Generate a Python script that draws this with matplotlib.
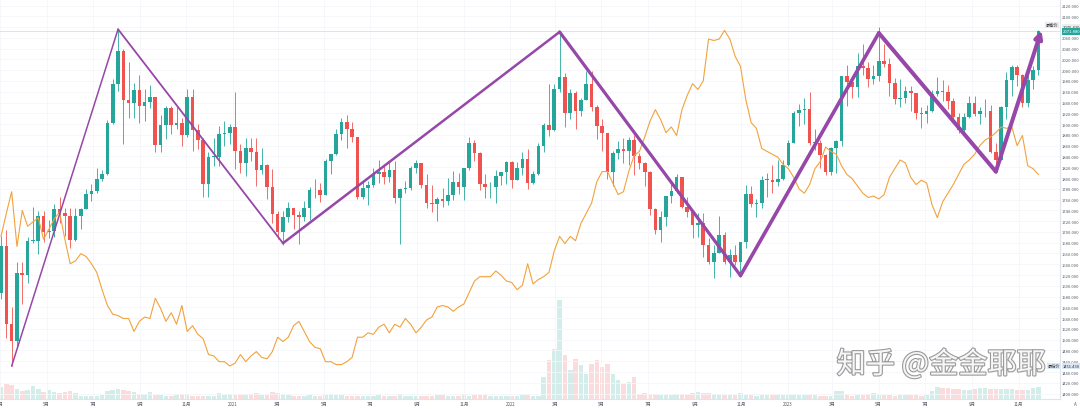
"""Weekly gold candles with dollar index overlay and a hand-drawn zigzag."""
import matplotlib
matplotlib.use("Agg")
import numpy as np
import pandas as pd
from matplotlib import pyplot as plt
from matplotlib import patheffects
from matplotlib.ticker import FuncFormatter
from matplotlib.transforms import blended_transform_factory

START = "2020-03-02"

# weekly gold OHLC, week of 2020-03-02 .. week of 2023-11-27
gold_open = [
    1586, 1674, 1529, 1498, 1624, 1620, 1683, 1683, 1729, 1700, 1702, 1743, 1735, 1730, 1685,
    1730, 1743, 1771, 1775, 1799, 1808, 1902, 1975, 2035, 1944, 1940, 1964, 1933, 1941, 1950,
    1861, 1899, 1930, 1899, 1902, 1879, 1951, 1889, 1871, 1788, 1839, 1839, 1881, 1883,
    # 2021
    1895, 1850, 1828, 1856, 1848, 1814, 1824, 1784, 1734, 1700, 1727, 1745, 1732, 1728, 1744,
    1777, 1777, 1769, 1831, 1844, 1881, 1903, 1891, 1877, 1764, 1781, 1787, 1808, 1812, 1802,
    1814, 1763, 1780, 1781, 1818, 1827, 1787, 1754, 1751, 1761, 1757, 1768, 1793, 1783, 1818,
    1865, 1846, 1788, 1783, 1783, 1804, 1811,
    # 2022
    1829, 1797, 1818, 1835, 1791, 1808, 1859, 1898, 1889, 1966, 1988, 1921, 1958, 1925, 1945,
    1974, 1931, 1896, 1883, 1811, 1846, 1853, 1851, 1871, 1840, 1827, 1811, 1742, 1703, 1727,
    1766, 1775, 1802, 1747, 1737, 1712, 1716, 1675, 1644, 1661, 1694, 1644, 1657, 1644, 1681,
    1771, 1751, 1754, 1797, 1797, 1793, 1798,
    # 2023
    1824, 1865, 1920, 1926, 1928, 1865, 1865, 1842, 1811, 1856, 1868, 1989, 1978, 1969, 2007,
    2004, 1983, 1990, 2017, 2011, 1977, 1946, 1948, 1961, 1958, 1921, 1919, 1925, 1955, 1961,
    1959, 1943, 1913, 1889, 1914, 1940, 1919, 1924, 1925, 1848, 1833, 1932, 1981, 2006, 1992,
    1940, 1981, 2001,
]
gold_high = [
    1692, 1703, 1560, 1645, 1645, 1690, 1747, 1739, 1738, 1722, 1751, 1765, 1745, 1745, 1744,
    1745, 1780, 1789, 1818, 1815, 1908, 1984, 2075, 2040, 2015, 1976, 1992, 1966, 1973, 1951,
    1917, 1933, 1933, 1931, 1911, 1965, 1966, 1900, 1875, 1848, 1875, 1896, 1906, 1900,
    1959, 1864, 1875, 1875, 1875, 1855, 1826, 1816, 1739, 1739, 1755, 1745, 1738, 1758, 1784,
    1798, 1790, 1836, 1845, 1890, 1912, 1916, 1903, 1877, 1795, 1795, 1818, 1834, 1825, 1832,
    1832, 1782, 1795, 1823, 1834, 1828, 1808, 1787, 1764, 1781, 1800, 1813, 1810, 1818, 1877,
    1870, 1849, 1808, 1793, 1815, 1812, 1831,
    1831, 1830, 1848, 1854, 1813, 1865, 1902, 1974, 1974, 2070, 1994, 1966, 1961, 1949, 1998,
    1998, 1936, 1909, 1884, 1850, 1869, 1874, 1877, 1879, 1847, 1830, 1813, 1745, 1739, 1767,
    1788, 1807, 1802, 1765, 1740, 1735, 1735, 1688, 1675, 1730, 1700, 1669, 1675, 1682, 1787,
    1786, 1761, 1804, 1810, 1824, 1833, 1833,
    1870, 1924, 1937, 1949, 1959, 1890, 1870, 1845, 1858, 1870, 1989, 2010, 1987, 2032, 2048,
    2015, 2009, 2081, 2048, 2022, 1985, 1983, 1971, 1971, 1958, 1931, 1935, 1964, 1987, 1982,
    1972, 1948, 1920, 1921, 1953, 1953, 1932, 1947, 1936, 1865, 1933, 1997, 2009, 2009, 1993,
    1993, 2007, 2075.42,
]
gold_low = [
    1576, 1504, 1451.43, 1484, 1567, 1605, 1680, 1659, 1681, 1688, 1691, 1717, 1693, 1671, 1683,
    1705, 1743, 1757, 1772, 1794, 1805, 1900, 1962, 1863, 1911, 1911, 1902, 1906, 1930, 1848,
    1848, 1873, 1882, 1891, 1860, 1876, 1850, 1853, 1764, 1765, 1823, 1823, 1859, 1863,
    1817, 1809, 1803, 1831, 1785, 1807, 1761, 1717, 1687, 1676, 1719, 1705, 1677, 1721, 1723,
    1763, 1756, 1768, 1808, 1843, 1870, 1855, 1866, 1761, 1761, 1750, 1783, 1791, 1789, 1793,
    1753, 1677, 1772, 1778, 1810, 1782, 1745, 1737, 1721, 1746, 1750, 1760, 1770, 1759, 1815,
    1831, 1778, 1762, 1762, 1753, 1787, 1789,
    1782, 1797, 1805, 1780, 1788, 1805, 1849, 1878, 1887, 1960, 1895, 1910, 1890, 1915, 1945,
    1925, 1872, 1850, 1798, 1786, 1836, 1828, 1825, 1805, 1816, 1785, 1732, 1697, 1681, 1711,
    1754, 1773, 1745, 1727, 1688, 1690, 1654, 1640, 1615, 1660, 1641, 1617, 1638, 1616, 1670,
    1747, 1727, 1744, 1765, 1773, 1785, 1797,
    1822, 1865, 1896, 1901, 1861, 1852, 1819, 1805, 1805, 1809, 1860, 1934, 1949, 1950, 1992,
    1969, 1975, 1980, 2006, 1952, 1937, 1932, 1940, 1925, 1910, 1893, 1902, 1922, 1953, 1942,
    1928, 1910, 1884, 1885, 1912, 1915, 1901, 1913, 1846, 1810, 1833, 1909, 1953, 1970, 1931,
    1932, 1965, 1992,
]
gold_close = [
    1674, 1529, 1498, 1624, 1620, 1683, 1683, 1729, 1700, 1702, 1743, 1735, 1730, 1685, 1730,
    1743, 1771, 1775, 1799, 1808, 1902, 1975, 2035, 1944, 1940, 1964, 1933, 1941, 1950, 1861,
    1899, 1930, 1899, 1902, 1879, 1951, 1889, 1871, 1788, 1839, 1839, 1881, 1883, 1895,
    1850, 1828, 1856, 1848, 1814, 1824, 1784, 1734, 1700, 1727, 1745, 1732, 1728, 1744, 1777,
    1777, 1769, 1831, 1844, 1881, 1903, 1891, 1877, 1764, 1781, 1787, 1808, 1812, 1802, 1814,
    1763, 1780, 1781, 1818, 1827, 1787, 1754, 1751, 1761, 1757, 1768, 1793, 1783, 1818, 1865,
    1846, 1788, 1783, 1783, 1804, 1811, 1829,
    1797, 1818, 1835, 1791, 1808, 1859, 1898, 1889, 1966, 1988, 1921, 1958, 1925, 1945, 1974,
    1931, 1896, 1883, 1811, 1846, 1853, 1851, 1871, 1840, 1827, 1811, 1742, 1703, 1727, 1766,
    1775, 1802, 1747, 1737, 1712, 1716, 1675, 1644, 1661, 1694, 1644, 1657, 1644, 1681, 1771,
    1751, 1754, 1797, 1797, 1793, 1798, 1824,
    1865, 1920, 1926, 1928, 1865, 1865, 1842, 1811, 1856, 1868, 1989, 1978, 1969, 2007, 2004,
    1983, 1990, 2017, 2011, 1977, 1946, 1948, 1961, 1958, 1921, 1919, 1925, 1955, 1961, 1959,
    1943, 1913, 1889, 1914, 1940, 1919, 1924, 1925, 1848, 1833, 1932, 1981, 2006, 1992, 1940,
    1981, 2001, 2071.88,
]

# dollar index overlay (orange), one value per week
dollar_index = [
    98.9, 100.5, 102.0, 98.2, 100.7, 99.6, 99.9, 100.2, 98.7, 99.4,
    100.1, 100.6, 98.7, 97.0, 97.2, 97.7, 97.5, 97.0, 96.4, 95.2,
    94.1, 93.5, 93.4, 93.2, 93.2, 92.3, 93.0, 93.3, 93.2, 94.6,
    93.9, 93.0, 93.6, 92.8, 94.1, 92.3, 92.7, 92.1, 91.8, 90.7,
    90.6, 90.2, 90.2, 89.9, 90.1, 90.7, 90.2, 90.6, 90.9, 90.5,
    90.4, 90.9, 91.9, 91.6, 91.9, 92.7, 93.0, 92.3, 91.6, 91.2,
    91.1, 90.2, 90.2, 90.0, 90.0, 90.2, 90.5, 91.9, 91.9, 92.2,
    92.1, 92.6, 92.8, 92.2, 92.8, 92.6, 93.2, 92.8, 92.2, 92.6,
    93.1, 93.3, 94.0, 94.1, 94.0, 93.7, 94.0, 94.2, 95.0, 95.8,
    96.1, 96.1, 96.1, 96.5, 96.2, 95.8, 95.7, 95.2, 95.5, 97.0,
    95.6, 95.9, 96.1, 96.4, 97.9, 98.9, 98.4, 98.9, 98.6, 99.8,
    100.5, 101.2, 102.7, 103.4, 103.4, 102.6, 101.8, 102.0, 103.4, 104.5,
    104.8, 105.8, 106.9, 107.7, 107.0, 106.1, 106.5, 105.9, 107.7, 108.7,
    109.5, 109.1, 109.7, 112.6, 112.5, 112.6, 113.2, 112.6, 111.4, 110.7,
    108.4, 106.8, 106.4, 105.0, 104.8, 104.6, 104.4, 103.9, 103.6, 103.0,
    102.2, 101.9, 102.5, 103.6, 104.1, 105.1, 104.8, 104.6, 103.8, 103.2,
    102.9, 102.4, 101.9, 101.6, 101.7, 101.5, 101.8, 103.0, 103.6, 104.2,
    104.0, 103.0, 102.5, 102.8, 102.6, 101.1, 100.2, 101.3, 101.9, 102.5,
    103.2, 103.9, 104.2, 104.6, 105.2, 105.6, 105.8, 106.1, 106.5, 106.4,
    106.5, 105.2, 105.9, 103.8, 103.6, 103.2,
]

volume = [
    12, 15, 14, 10, 8, 9, 13, 10, 7, 9, 7, 6, 7, 8, 6, 3, 3, 3, 3, 4,
    8, 9, 10, 9, 8, 7, 5, 5, 7, 4, 4, 3, 3, 4, 5, 5, 3, 3, 3, 3,
    3, 6, 5, 5, 4, 5, 4, 5, 6, 4, 4, 7, 6, 5, 4, 3, 3, 3, 4, 3,
    3, 4, 5, 4, 4, 3, 3, 3, 3, 3, 3, 4, 3, 3, 3, 5, 3, 3, 3, 3,
    3, 3, 4, 4, 3, 3, 3, 4, 3, 4, 4, 4, 3, 3, 3, 3, 3, 3, 4, 4,
    3, 3, 22, 39, 50, 99, 44, 29, 40, 34, 25, 35, 39, 32, 35, 25, 19, 15, 17, 22,
    5, 6, 5, 5, 4, 4, 4, 5, 5, 5, 6, 7, 6, 6, 5, 5, 4, 4, 4, 6,
    4, 4, 3, 4, 4, 4, 4, 4, 4, 4, 4, 4, 4, 4, 3, 3, 3, 8, 8, 5,
    3, 4, 4, 5, 6, 5, 4, 4, 3, 4, 4, 4, 4, 3, 4, 8, 12, 11, 11, 10,
    10, 9, 9, 10, 11, 11, 10, 10, 10, 10, 10, 9, 9, 9, 11, 12,
]

tick_dates = [
    "2020-03-01", "2020-05-01", "2020-07-01", "2020-09-01", "2020-11-01",
    "2021-01-01", "2021-03-01", "2021-05-01", "2021-07-01", "2021-09-01", "2021-11-01",
    "2022-01-01", "2022-03-01", "2022-05-01", "2022-07-01", "2022-09-01", "2022-11-01",
    "2023-01-01", "2023-03-01", "2023-05-01", "2023-07-01", "2023-09-01", "2023-11-01",
]
tick_labels = [
    "3月", "5月", "7月", "9月", "11月",
    "2021", "3月", "5月", "7月", "9月", "11月",
    "2022", "3月", "5月", "7月", "9月", "11月",
    "2023", "3月", "5月", "7月", "9月", "11月",
]

# hand drawn zigzag (purple)
zig_dates = ["2020-03-16", "2020-08-03", "2021-03-08", "2022-03-07",
             "2022-10-31", "2023-05-01", "2023-10-02", "2023-12-01"]
zig_prices = [1451, 2076, 1679, 2071, 1619, 2069, 1812, 2074]
zig_widths = [1.1, 1.3, 1.8, 2.3, 2.6, 2.9, 2.9]

UP = "#26a69a"
DOWN = "#ef5350"
PURPLE = "#9647a8"
ORANGE = "#f2a23c"
GRID = "#f5f6fa"
TEXT = "#555a66"

plt.rcParams["font.family"] = ["Noto Sans CJK SC", "DejaVu Sans"]

start = pd.Timestamp(START)


def to_x(dates):
    """Convert dates into fractional week positions from START."""
    return np.asarray((pd.to_datetime(dates) - start).days, dtype=float) / 7.0


weeks = pd.date_range(START, periods=len(gold_close), freq="7D")
xs = to_x(weeks)
o = np.array(gold_open, dtype=float)
h = np.array(gold_high, dtype=float)
lo = np.array(gold_low, dtype=float)
c = np.array(gold_close, dtype=float)
rising = c >= o
colors = np.where(rising, UP, DOWN)

fig = plt.figure(figsize=(10.8, 4.1), dpi=100)
fig.patch.set_facecolor("white")
ax = fig.add_axes([0, 10 / 410, 1060 / 1080, 400 / 410])
ax_vol = ax.twinx()
ax_dxy = ax.twinx()
ax_draw = ax.twinx()
ax_vol.set_zorder(1)
ax.set_zorder(2)
ax_dxy.set_zorder(3)
ax_draw.set_zorder(4)
for a in (ax, ax_vol, ax_dxy, ax_draw):
    a.patch.set_visible(False)

x_left, x_right = -0.19, 199.06
price_lim = (1390.0, 2132.1)
ax.set_xlim(x_left, x_right)
ax.set_ylim(*price_lim)

# volume at the bottom
ax_vol.bar(xs, volume, width=0.85, color=colors, alpha=0.2, linewidth=0)
ax_vol.set_ylim(0, 400)
ax_vol.set_yticks([])

# candles
ax.vlines(xs, lo, h, colors=colors, linewidth=0.6, zorder=3)
body = np.maximum(np.abs(c - o), 1.2)
ax.bar(xs, body, bottom=np.minimum(o, c), width=0.68, color=colors, linewidth=0, zorder=4)
ax.axhline(2071.88, color="#e2e2e2", linewidth=0.7, zorder=1)

# dollar index overlay
ax_dxy.plot(xs, dollar_index, color=ORANGE, linewidth=0.8)
ax_dxy.set_ylim(87.61, 115.38)
ax_dxy.set_yticks([])

# zigzag drawing in price coordinates
ax_draw.set_ylim(*price_lim)
ax_draw.set_yticks([])
zx = to_x(zig_dates)
for k in range(len(zx) - 2):
    ax_draw.plot(zx[k:k + 2], zig_prices[k:k + 2], color=PURPLE, linewidth=zig_widths[k],
                 solid_capstyle="round")
ax_draw.annotate("", xy=(zx[-1], zig_prices[-1]), xytext=(zx[-2], zig_prices[-2]),
                 arrowprops=dict(arrowstyle="-|>", color=PURPLE, lw=zig_widths[-1],
                                 mutation_scale=11, shrinkA=0, shrinkB=0))

# axes cosmetics (after twinx, which resets the tick side)
for a in (ax_vol, ax_dxy, ax_draw):
    for s in a.spines.values():
        s.set_visible(False)
for name in ("top", "left"):
    ax.spines[name].set_visible(False)
for name in ("right", "bottom"):
    ax.spines[name].set_color("#e0e3eb")
    ax.spines[name].set_linewidth(0.8)

ax.yaxis.tick_right()
ax.set_yticks(np.arange(1400, 2121, 20))
ax.yaxis.set_major_formatter(FuncFormatter(lambda v, _: f"{v:.3f}"))
ax.tick_params(axis="y", length=0, pad=1.5, labelsize=3.0, labelcolor=TEXT,
               labelright=True, labelleft=False)
ax.set_xticks(to_x(tick_dates))
ax.set_xticklabels(tick_labels)
ax.tick_params(axis="x", length=0, pad=1.2, labelsize=3.2, labelcolor=TEXT)
ax.grid(True, color=GRID, linewidth=0.6)
ax.set_axisbelow(True)

# price tags on the scale
trans = blended_transform_factory(ax.transAxes, ax.transData)
tag = dict(ha="left", va="center", fontsize=3.0, transform=trans, clip_on=False, zorder=6)
ax.text(1.003, 2081, "2075.420", color="#333333",
        bbox=dict(boxstyle="square,pad=0.25", fc="#eeeeee", ec="none"), **tag)
ax.text(1.003, 2071.88, "2071.880", color="white",
        bbox=dict(boxstyle="square,pad=0.25", fc=UP, ec="none"), **tag)
ax.text(1.003, 1451.43, "1451.430", color="#333333",
        bbox=dict(boxstyle="square,pad=0.25", fc="#dbe7f5", ec="none"), **tag)
ax.text(0.9865, 2084, "最高价", color="#333333",
        bbox=dict(boxstyle="square,pad=0.25", fc="#e9e9ec", ec="none"), **tag)
ax.text(0.9885, 1451.43, "最低价", color="#333333",
        bbox=dict(boxstyle="square,pad=0.25", fc="#dbe7f5", ec="none"), **tag)
fig.text(1075 / 1080, 5 / 410, "A", fontsize=3.2, color=TEXT, ha="center", va="center")

# watermark
fig.text(941 / 1080, 1 - 366 / 410, "知乎 @金金耶耶", fontsize=21, color="#f6f6f6",
         ha="center", va="center", zorder=10,
         path_effects=[patheffects.withStroke(linewidth=1.6, foreground="#9a9a9a")])

fig.savefig("out.png", dpi=100, facecolor="white")
